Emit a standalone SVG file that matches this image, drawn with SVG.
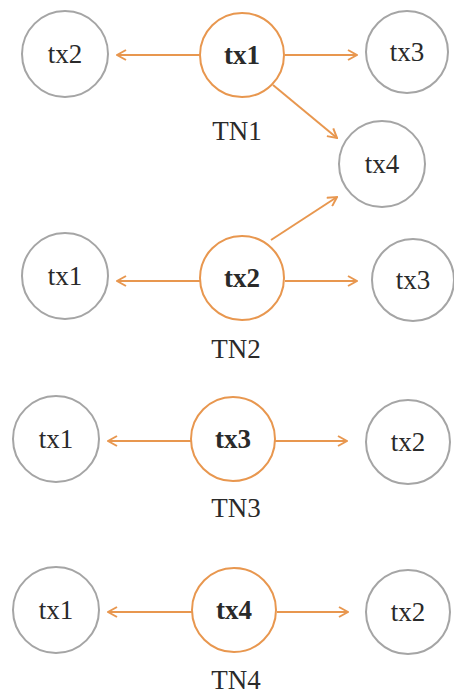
<svg xmlns="http://www.w3.org/2000/svg" width="454" height="696" viewBox="0 0 454 696">
<defs>
<marker id="ah" viewBox="0 0 12 12" refX="11" refY="6" markerWidth="12" markerHeight="12" markerUnits="userSpaceOnUse" orient="auto">
<path d="M2,1 L11,6 L2,11" fill="none" stroke="#E8974F" stroke-width="2"/>
</marker>
<style>
.g{fill:#fff;stroke:#A5A5A5;stroke-width:2}
.o{fill:#fff;stroke:#E8974F;stroke-width:2}
text{font-family:"Liberation Serif","Times New Roman","DejaVu Serif",serif;font-size:27px;fill:#2a2a2a;text-anchor:middle}
.b{font-weight:bold}
.c{stroke:#E8974F;stroke-width:2;fill:none;marker-end:url(#ah)}
</style>
</defs>
<rect width="454" height="696" fill="#fff"/>
<g id="connectors">
<line class="c" x1="200" y1="55" x2="117" y2="55"/>
<line class="c" x1="285" y1="55" x2="357" y2="55"/>
<line class="c" x1="273" y1="85" x2="337" y2="138"/>
<line class="c" x1="271" y1="240" x2="337" y2="197"/>
<line class="c" x1="200" y1="281" x2="117" y2="281"/>
<line class="c" x1="285" y1="281" x2="357" y2="281"/>
<line class="c" x1="192" y1="441" x2="108" y2="441"/>
<line class="c" x1="275" y1="441" x2="347" y2="441"/>
<line class="c" x1="192" y1="612" x2="108" y2="612"/>
<line class="c" x1="277" y1="612" x2="348" y2="612"/>
</g>
<g id="TN1">
<g id="tn1-tx1"><circle class="o" cx="242" cy="55" r="42"/><text class="b" x="242" y="64">tx1</text></g>
<g id="tn1-tx2"><circle class="g" cx="65" cy="54" r="43"/><text x="65" y="63">tx2</text></g>
<g id="tn1-tx3"><circle class="g" cx="407" cy="52" r="41"/><text x="407" y="61">tx3</text></g>
<text x="237" y="140">TN1</text>
</g>
<g id="tx4-shared"><circle class="g" cx="382" cy="164" r="43"/><text x="382" y="173">tx4</text></g>
<g id="TN2">
<g id="tn2-tx2"><circle class="o" cx="242" cy="278" r="42"/><text class="b" x="242" y="287">tx2</text></g>
<g id="tn2-tx1"><circle class="g" cx="65" cy="276" r="43"/><text x="65" y="285">tx1</text></g>
<g id="tn2-tx3"><circle class="g" cx="413" cy="280" r="41"/><text x="413" y="289">tx3</text></g>
<text x="236" y="358">TN2</text>
</g>
<g id="TN3">
<g id="tn3-tx3"><circle class="o" cx="233" cy="439" r="42"/><text class="b" x="233" y="448">tx3</text></g>
<g id="tn3-tx1"><circle class="g" cx="56" cy="439" r="43"/><text x="56" y="448">tx1</text></g>
<g id="tn3-tx2"><circle class="g" cx="408" cy="442" r="42"/><text x="408" y="451">tx2</text></g>
<text x="236" y="517">TN3</text>
</g>
<g id="TN4">
<g id="tn4-tx4"><circle class="o" cx="234" cy="610" r="42"/><text class="b" x="234" y="619">tx4</text></g>
<g id="tn4-tx1"><circle class="g" cx="56" cy="610" r="43"/><text x="56" y="619">tx1</text></g>
<g id="tn4-tx2"><circle class="g" cx="408" cy="612" r="42"/><text x="408" y="621">tx2</text></g>
<text x="236" y="689">TN4</text>
</g>
</svg>
